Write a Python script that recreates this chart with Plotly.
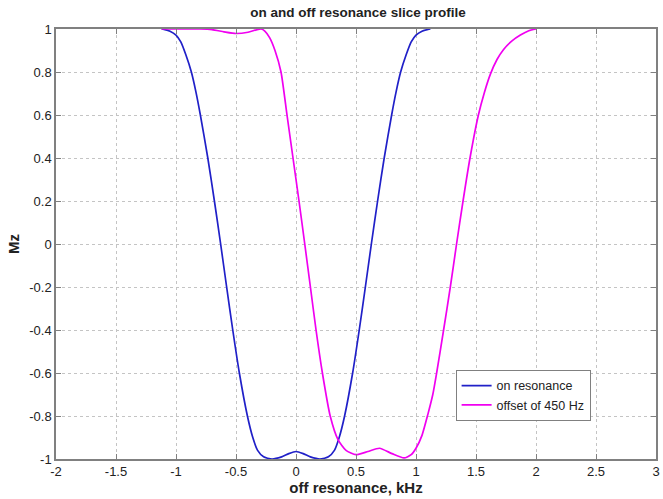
import plotly.graph_objects as go

# on resonance (blue)
on_x = [-1.12, -1.1, -1.05, -1.0, -0.96, -0.918, -0.872, -0.835, -0.797, -0.735, -0.68,
        -0.628, -0.578, -0.527, -0.472, -0.405, -0.36, -0.32, -0.27, -0.2, -0.12, -0.06, 0.0,
        0.06, 0.12, 0.2, 0.27, 0.32, 0.36, 0.405, 0.472, 0.527, 0.578, 0.628,
        0.68, 0.735, 0.797, 0.835, 0.872, 0.918, 0.96, 1.0, 1.05, 1.1, 1.12]
on_y = [1.0, 0.998, 0.99, 0.972, 0.94, 0.88, 0.8, 0.71, 0.6, 0.4, 0.2,
        0.0, -0.2, -0.4, -0.6, -0.8, -0.9, -0.96, -0.99, -1.0, -0.99, -0.975, -0.965,
        -0.975, -0.99, -1.0, -0.99, -0.96, -0.9, -0.8, -0.6, -0.4, -0.2, 0.0,
        0.2, 0.4, 0.6, 0.71, 0.8, 0.88, 0.94, 0.972, 0.99, 0.998, 1.0]

# offset of 450 Hz (magenta)
off_x = [-1.12, -0.8, -0.7, -0.6, -0.5, -0.4, -0.33, -0.29, -0.26, -0.22, -0.175, -0.125,
         -0.075, -0.025, 0.025, 0.073, 0.12, 0.167, 0.22, 0.285, 0.35, 0.417,
         0.5, 0.6, 0.696, 0.8, 0.9, 0.96, 1.0, 1.05, 1.1, 1.14, 1.172, 1.23, 1.286, 1.338,
         1.392, 1.45, 1.52, 1.57, 1.62, 1.675, 1.73, 1.8, 1.87, 1.94, 2.0]
off_y = [1.0, 1.0, 0.997, 0.987, 0.979, 0.985, 0.996, 1.0, 0.99, 0.96, 0.9, 0.8,
         0.6, 0.4, 0.2, 0.0, -0.2, -0.4, -0.6, -0.8, -0.91, -0.96,
         -0.98, -0.965, -0.95, -0.975, -0.995, -0.98, -0.95, -0.89, -0.79, -0.7, -0.6, -0.4, -0.2, 0.0,
         0.2, 0.4, 0.6, 0.705, 0.79, 0.858, 0.905, 0.945, 0.972, 0.992, 1.0]

x_ticks = [-2, -1.5, -1, -0.5, 0, 0.5, 1, 1.5, 2, 2.5, 3]
x_labels = ["-2", "-1.5", "-1", "-0.5", "0", "0.5", "1", "1.5", "2", "2.5", "3"]
y_ticks = [-1, -0.8, -0.6, -0.4, -0.2, 0, 0.2, 0.4, 0.6, 0.8, 1]
y_labels = ["-1", "-0.8", "-0.6", "-0.4", "-0.2", "0", "0.2", "0.4", "0.6", "0.8", "1"]

fig = go.Figure()
fig.add_trace(go.Scatter(x=on_x, y=on_y, mode="lines", name="on resonance",
                         line=dict(color="#2020c8", width=1.7, shape="spline", smoothing=0.6)))
fig.add_trace(go.Scatter(x=off_x, y=off_y, mode="lines", name="offset of 450 Hz",
                         line=dict(color="#f000f0", width=1.7, shape="spline", smoothing=0.6)))

axis_common = dict(showgrid=True, gridcolor="#c4c4c4", griddash="dot", gridwidth=1,
                   showline=True, linecolor="#808080", linewidth=1.5, mirror="ticks",
                   ticks="inside", ticklen=5, tickcolor="#808080", zeroline=False,
                   tickfont=dict(family="Arial, Liberation Sans", size=13, color="#222222"))

fig.update_layout(
    width=663, height=499,
    margin=dict(l=56, r=3, t=29, b=40),
    paper_bgcolor="white", plot_bgcolor="white",
    title=dict(text="<b>on and off resonance slice profile</b>", x=0.54, xanchor="center",
               y=0.975, yanchor="middle",
               font=dict(family="Arial, Liberation Sans", size=13.5, color="#222222")),
    xaxis=dict(range=[-2, 3], tickvals=x_ticks, ticktext=x_labels,
               title=dict(text="<b>off resonance, kHz</b>", standoff=4,
                          font=dict(family="Arial, Liberation Sans", size=15, color="#222222")),
               **axis_common),
    yaxis=dict(range=[-1, 1], tickvals=y_ticks, ticktext=y_labels,
               title=dict(text="<b>Mz</b>", standoff=6,
                          font=dict(family="Arial, Liberation Sans", size=15, color="#222222")),
               **axis_common),
    legend=dict(x=0.666, y=0.207, xanchor="left", yanchor="top",
                bgcolor="white", bordercolor="#808080", borderwidth=1,
                font=dict(family="Arial, Liberation Sans", size=12.5, color="#222222"),
                tracegroupgap=0, itemwidth=30),
    showlegend=True,
)

fig.write_html("out.html")
